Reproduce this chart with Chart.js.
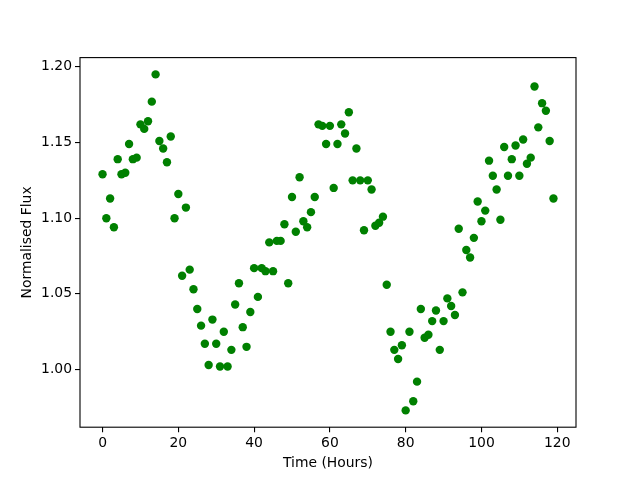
<!DOCTYPE html>
<html>
<head>
<meta charset="utf-8">
<script src="https://cdn.jsdelivr.net/npm/chart.js@4"></script>
<style>
  html, body { margin: 0; padding: 0; background: #fff; }
  #wrap { width: 640px; height: 480px; }
</style>
</head>
<body>
<div id="wrap"><canvas id="chart" width="640" height="480"></canvas></div>
<script>
'use strict';

/* ── Data ── */
const hours = [
    0, 1, 2, 3, 4, 5, 6, 7, 8, 9, 10, 11, 12, 13, 14, 15, 16, 17, 18, 19,
    20, 21, 22, 23, 24, 25, 26, 27, 28, 29, 30, 31, 32, 33, 34, 35, 36, 37, 38, 39,
    40, 41, 42, 43, 44, 45, 46, 47, 48, 49, 50, 51, 52, 53, 54, 55, 56, 57, 58, 59,
    60, 61, 62, 63, 64, 65, 66, 67, 68, 69, 70, 71, 72, 73, 74, 75, 76, 77, 78, 79,
    80, 81, 82, 83, 84, 85, 86, 87, 88, 89, 90, 91, 92, 93, 94, 95, 96, 97, 98, 99,
    100, 101, 102, 103, 104, 105, 106, 107, 108, 109, 110, 111, 112, 113, 114, 115, 116, 117, 118, 119,
];
const flux = [
    1.129, 1.100, 1.113, 1.094, 1.139, 1.129, 1.130, 1.149, 1.139, 1.140,
    1.162, 1.159, 1.164, 1.177, 1.195, 1.151, 1.146, 1.137, 1.154, 1.100,
    1.116, 1.062, 1.107, 1.066, 1.053, 1.040, 1.029, 1.017, 1.003, 1.033,
    1.017, 1.002, 1.025, 1.002, 1.013, 1.043, 1.057, 1.028, 1.015, 1.038,
    1.067, 1.048, 1.067, 1.065, 1.084, 1.065, 1.085, 1.085, 1.096, 1.057,
    1.114, 1.091, 1.127, 1.098, 1.094, 1.104, 1.114, 1.162, 1.161, 1.149,
    1.161, 1.120, 1.149, 1.162, 1.156, 1.170, 1.125, 1.146, 1.125, 1.092,
    1.125, 1.119, 1.095, 1.097, 1.101, 1.056, 1.025, 1.013, 1.007, 1.016,
    0.973, 1.025, 0.979, 0.992, 1.040, 1.021, 1.023, 1.032, 1.039, 1.013,
    1.032, 1.047, 1.042, 1.036, 1.093, 1.051, 1.079, 1.074, 1.087, 1.111,
    1.098, 1.105, 1.138, 1.128, 1.119, 1.099, 1.147, 1.128, 1.139, 1.148,
    1.128, 1.152, 1.136, 1.140, 1.187, 1.160, 1.176, 1.171, 1.151, 1.113,
];
const xTicks = [0, 20, 40, 60, 80, 100, 120];
const yTicks = [1.00, 1.05, 1.10, 1.15, 1.20];

/* ── Axis limits: data range + 5% margin ── */
function padRange(vals) {
    const lo = Math.min(...vals), hi = Math.max(...vals);
    const m = (hi - lo) * 0.05;
    return [lo - m, hi + m];
}
const [xMin, xMax] = padRange(hours);
const [yMin, yMax] = padRange(flux);

const FONT = { family: "'DejaVu Sans', sans-serif", size: 13.9 };

/* frame round the plot area, like the four spines */
const frame = {
    id: 'frame',
    afterDraw(chart) {
        const { ctx, chartArea: a } = chart;
        ctx.save();
        ctx.strokeStyle = '#000';
        ctx.lineWidth = 1.1;
        ctx.strokeRect(a.left, a.top, a.right - a.left, a.bottom - a.top);
        ctx.restore();
    },
};

const whiteBg = {
    id: 'whiteBg',
    beforeDraw(chart) {
        const { ctx, width, height } = chart;
        ctx.save();
        ctx.fillStyle = '#fff';
        ctx.fillRect(0, 0, width, height);
        ctx.restore();
    },
};

new Chart(document.getElementById('chart'), {
    type: 'scatter',
    data: {
        datasets: [{
            data: hours.map((h, i) => ({ x: h, y: flux[i] })),
            backgroundColor: '#008000',
            borderWidth: 0,
            pointRadius: 4.2,
            pointHoverRadius: 4.2,
        }],
    },
    options: {
        responsive: false,
        animation: false,
        events: [],
        layout: { padding: { left: 0, top: 57.6, right: 64, bottom: 0 } },
        plugins: { legend: { display: false }, tooltip: { enabled: false } },
        scales: {
            x: {
                type: 'linear',
                min: xMin,
                max: xMax,
                afterBuildTicks: s => { s.ticks = xTicks.map(v => ({ value: v })); },
                afterFit: s => { s.height = 52.8; },
                border: { display: false },
                grid: { drawOnChartArea: false, drawTicks: true, tickLength: 5, color: '#000', lineWidth: 1.1 },
                ticks: { color: '#000', font: FONT, padding: 3, maxRotation: 0, autoSkip: false },
                title: { display: true, text: 'Time (Hours)', color: '#000', font: FONT, padding: { top: 0, bottom: 8 } },
            },
            y: {
                type: 'linear',
                min: yMin,
                max: yMax,
                afterBuildTicks: s => { s.ticks = yTicks.map(v => ({ value: v })); },
                afterFit: s => { s.width = 80; },
                border: { display: false },
                grid: { drawOnChartArea: false, drawTicks: true, tickLength: 5, color: '#000', lineWidth: 1.1 },
                ticks: { color: '#000', font: FONT, padding: 3, autoSkip: false, callback: v => v.toFixed(2) },
                title: { display: true, text: 'Normalised Flux', color: '#000', font: FONT, padding: { top: 19, bottom: 0 } },
            },
        },
    },
    plugins: [whiteBg, frame],
});
</script>
</body>
</html>
